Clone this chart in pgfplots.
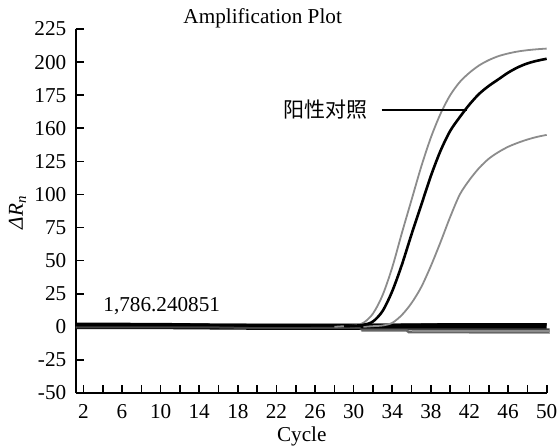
\documentclass[border=0pt]{standalone}
\usepackage{pgfplots}
\pgfplotsset{compat=1.18}
\usepackage{fontspec}
\setmainfont{Liberation Serif}
\newfontfamily\cjk{Noto Sans CJK SC}
\definecolor{curvegray}{RGB}{140,140,140}
\begin{document}
\fontsize{10.6}{12.5}\selectfont
\begin{tikzpicture}
\path[use as bounding box] (-37.85pt,-26pt) rectangle (242.15pt,196.5pt);
\begin{axis}[
  scale only axis,
  width=235.5pt, height=182pt,
  xmin=1.2, xmax=50, ymin=-50, ymax=225,
  axis x line=bottom, axis y line=left,
  axis line style={-, line width=1pt},
  tick align=inside,
  major tick length=4pt, minor tick length=4pt,
  tick style={black, line width=0.8pt},
  xtick={2,6,...,50},
  minor xtick={4,8,...,48},
  xticklabels={2,6,10,14,18,22,26,30,34,38,42,46,50},
  ytick={-50,-25,0,25,50,75,100,125,150,175,200,225},
  yticklabels={-50,-25,0,25,50,75,100,125,160,175,200,225},
  ticklabel style={font=\fontsize{10.6}{12}\selectfont},
  xticklabel style={yshift=-2pt},
  yticklabel style={xshift=-1pt},
  xlabel={Cycle},
  xlabel style={at={(rel axis cs:0.48,0)}, anchor=north, yshift=-13pt, font=\fontsize{10.6}{12}\selectfont},
  ylabel={\textit{ΔR}\textsubscript{\textit{n}}},
  ylabel style={at={(rel axis cs:0,0.496)}, anchor=center, yshift=29.1pt, font=\fontsize{10.6}{12}\selectfont},
  every axis title shift=0pt,
  title={Amplification Plot},
  title style={at={(rel axis cs:0.397,1)}, anchor=base, yshift=2.8pt, font=\fontsize{10.6}{12}\selectfont},
  clip=false,
]
% baseline band
\addplot[black, line width=3pt] coordinates {(1.2,0.5) (10,0.5) (20,0) (30,0) (40,0.5) (50,0.5)};
\addplot[black, line width=1.2pt] coordinates {(1.2,2.3) (10,2.1) (16,1.5) (30,1.5) (50,1.8)};
\addplot[black!75, line width=1pt] coordinates {(1.2,-0.5) (16,-0.5) (20,-1) (30,-0.8) (30.6,-0.8) (30.8,-2) (50.3,-2)};
\addplot[black!60, line width=1.2pt] coordinates {(30.8,-2.8) (35.5,-2.8) (35.7,-4) (50.3,-4)};
\addplot[black!45, line width=0.8pt] coordinates {(36,-3.3) (50.3,-3.3)};
\addplot[black!35, line width=0.8pt] coordinates {(42,-5) (50.3,-5)};
% left gray curve
\addplot[curvegray, line width=0.9pt, smooth] coordinates {
 (28,0) (29,0.5) (30,1) (31,3) (32,10) (33,24) (34,45) (35,71) (36,96) (37,121) (38,143) (39,161) (40,175) (41,185) (42,192) (43,197.5) (44,201.5) (45,204.5) (46,206.5) (47,208) (48,209) (49,209.7) (50,210.2)};
% right gray curve
\addplot[curvegray, line width=0.9pt, smooth] coordinates {
 (31,0) (32,0.5) (33,1) (34,3) (35,9) (36,18) (37,30) (38,46) (39,64) (40,83) (41,100) (42,111) (43,120) (44,127) (45,132) (46,136) (47,139) (48,141.5) (49,143.5) (50,145)};
% positive control (black)
\addplot[black, line width=1.3pt, smooth] coordinates {
 (29,0.5) (30,0.8) (31,1.5) (32,4) (33,12) (34,27) (35,47) (36,70) (37,92) (38,114) (39,133) (40,148) (41,158.5) (42,168) (43,176) (44,182) (45,187) (46,192) (47,196) (48,199) (49,201) (50,202.5)};
% annotations
\draw[black, line width=1.4pt] (axis cs:32.9,163.8) -- (axis cs:41.7,163.8);
\node[anchor=east, inner sep=0pt, font={\cjk\fontsize{10.5}{12}\selectfont}] at (axis cs:31.5,163.8) {阳性对照};
\node[anchor=base west, inner sep=0pt] at (axis cs:4.03,11.9) {1,786.240851};
\end{axis}
\end{tikzpicture}
\end{document}
